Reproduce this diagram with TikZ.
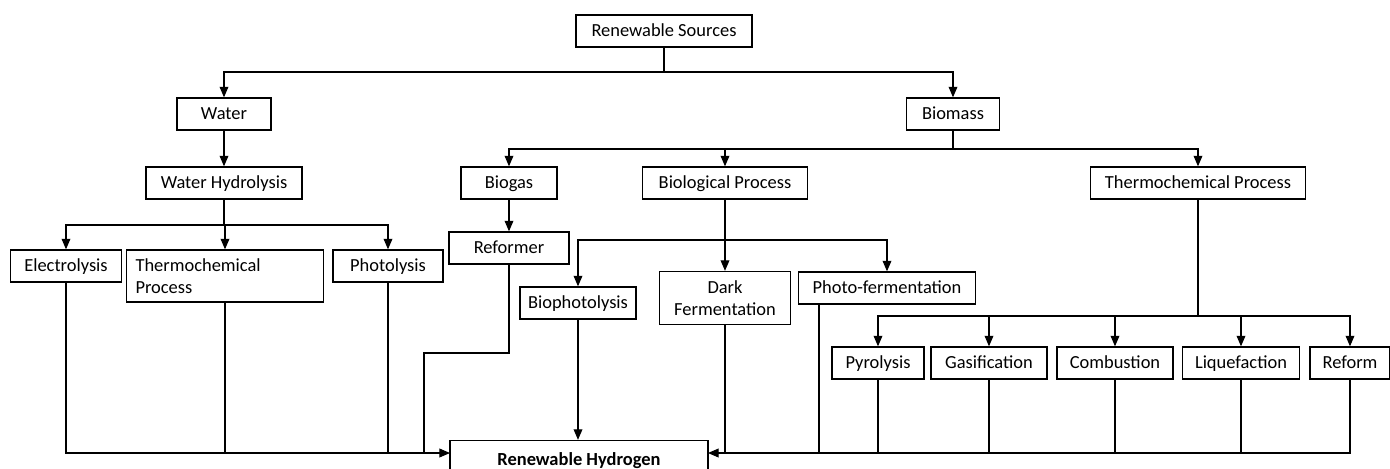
\documentclass[tikz,border=0pt]{standalone}
\usepackage{fontspec}
\setmainfont{Carlito}
\usetikzlibrary{arrows.meta, positioning}

\begin{document}
\begin{tikzpicture}[
    x=0.02cm, y=-0.02cm,
    box/.style={
        draw=black,
        thick,
        align=center,
        minimum height=0.64cm,
        inner sep=2pt,
        text height=1.6ex,
        text depth=0.3ex,
        font=\fontsize{10.5}{12.5}\selectfont
    },
    tall/.style={
        text height=,
        text depth=
    },
    arrow/.style={
        -{Triangle[length=6pt,width=5pt]},
        semithick,
        draw=black
    },
    link/.style={
        semithick,
        draw=black
    }
]
\useasboundingbox (0,0) rectangle (1390,468);

% Nodes
\node (src) [box, minimum width=3.52cm] at (664,31) {Renewable Sources};
\node (water) [box, minimum width=1.88cm] at (224,114) {Water};
\node (biomass) [box, minimum width=1.86cm] at (953,114) {Biomass};
\node (whyd) [box, minimum width=3.12cm] at (224,183) {Water Hydrolysis};
\node (biogas) [box, minimum width=1.92cm] at (509,183) {Biogas};
\node (bioproc) [box, minimum width=3.3cm] at (725,183) {Biological Process};
\node (thermo) [box, minimum width=4.3cm] at (1198,183) {Thermochemical Process};
\node (elec) [box, minimum width=2.22cm] at (66,266) {Electrolysis};
\node (wtherm) [box, tall, align=left, text width=3.58cm, inner xsep=0.18cm, minimum height=1.04cm] at (225,276) {Thermochemical\\Process};
\node (photol) [box, minimum width=2.2cm] at (388,266) {Photolysis};
\node (reformer) [box, minimum width=2.4cm] at (509,248) {Reformer};
\node (bioph) [box, minimum width=2.32cm] at (578,303) {Biophotolysis};
\node (dark) [box, tall, minimum width=2.62cm, minimum height=1.06cm] at (725,298) {Dark\\Fermentation};
\node (photof) [box, minimum width=3.54cm] at (887,288) {Photo-fermentation};
\node (pyro) [box, minimum width=1.84cm] at (878,363) {Pyrolysis};
\node (gasif) [box, minimum width=2.32cm] at (989,363) {Gasification};
\node (comb) [box, minimum width=2.32cm] at (1115,363) {Combustion};
\node (lique) [box, minimum width=2.34cm] at (1241,363) {Liquefaction};
\node (reform) [box, minimum width=1.6cm] at (1350,363) {Reform};
\node (hydro) [box, minimum width=5.16cm, minimum height=0.78cm, font=\fontsize{10.5}{12.5}\selectfont\bfseries] at (579,460) {Renewable Hydrogen};

% Junctions
\coordinate (jsrc) at (664,72);
\coordinate (jbio) at (953,149);
\coordinate (jwat) at (224,225);
\coordinate (jproc) at (725,240);
\coordinate (jtherm) at (1198,316);
\coordinate (jref) at (424,353);
\coordinate (inL) at (450,453);
\coordinate (inR) at (708,453);

% Paths
\draw [link] (src) -- (jsrc);
\draw [arrow] (jsrc) -| (water);
\draw [arrow] (jsrc) -| (biomass);
\draw [arrow] (water) -- (whyd);
\draw [link] (biomass) -- (jbio);
\draw [arrow] (jbio) -| (biogas);
\draw [arrow] (jbio) -| (bioproc);
\draw [arrow] (jbio) -| (thermo);
\draw [link] (whyd) -- (jwat);
\draw [arrow] (jwat) -| (elec);
\draw [arrow] (jwat) -| (wtherm);
\draw [arrow] (jwat) -| (photol);
\draw [arrow] (biogas) -- (reformer);
\draw [link] (bioproc) -- (jproc);
\draw [arrow] (jproc) -| (bioph);
\draw [arrow] (jproc) -| (dark);
\draw [arrow] (jproc) -| (photof);
\draw [link] (thermo) -- (jtherm);
\draw [arrow] (jtherm) -| (pyro);
\draw [arrow] (jtherm) -| (gasif);
\draw [arrow] (jtherm) -| (comb);
\draw [arrow] (jtherm) -| (lique);
\draw [arrow] (jtherm) -| (reform);

\draw [arrow] (elec.south) |- (inL);
\draw [link] (wtherm.south) -- (wtherm.south |- inL);
\draw [link] (photol.south) -- (photol.south |- inL);
\draw [link] (reformer.south) |- (jref) -- (jref |- inL);
\draw [arrow] (bioph.south) -- (bioph.south |- hydro.north);
\draw [arrow] (reform.south) |- (inR);
\draw [link] (dark.south) -- (dark.south |- inR);
\draw [link] ([xshift=0.424cm]photof.south west) -- ([xshift=0.424cm]photof.south west |- inR);
\draw [link] (pyro.south) -- (pyro.south |- inR);
\draw [link] (gasif.south) -- (gasif.south |- inR);
\draw [link] (comb.south) -- (comb.south |- inR);
\draw [link] (lique.south) -- (lique.south |- inR);

\end{tikzpicture}
\end{document}
